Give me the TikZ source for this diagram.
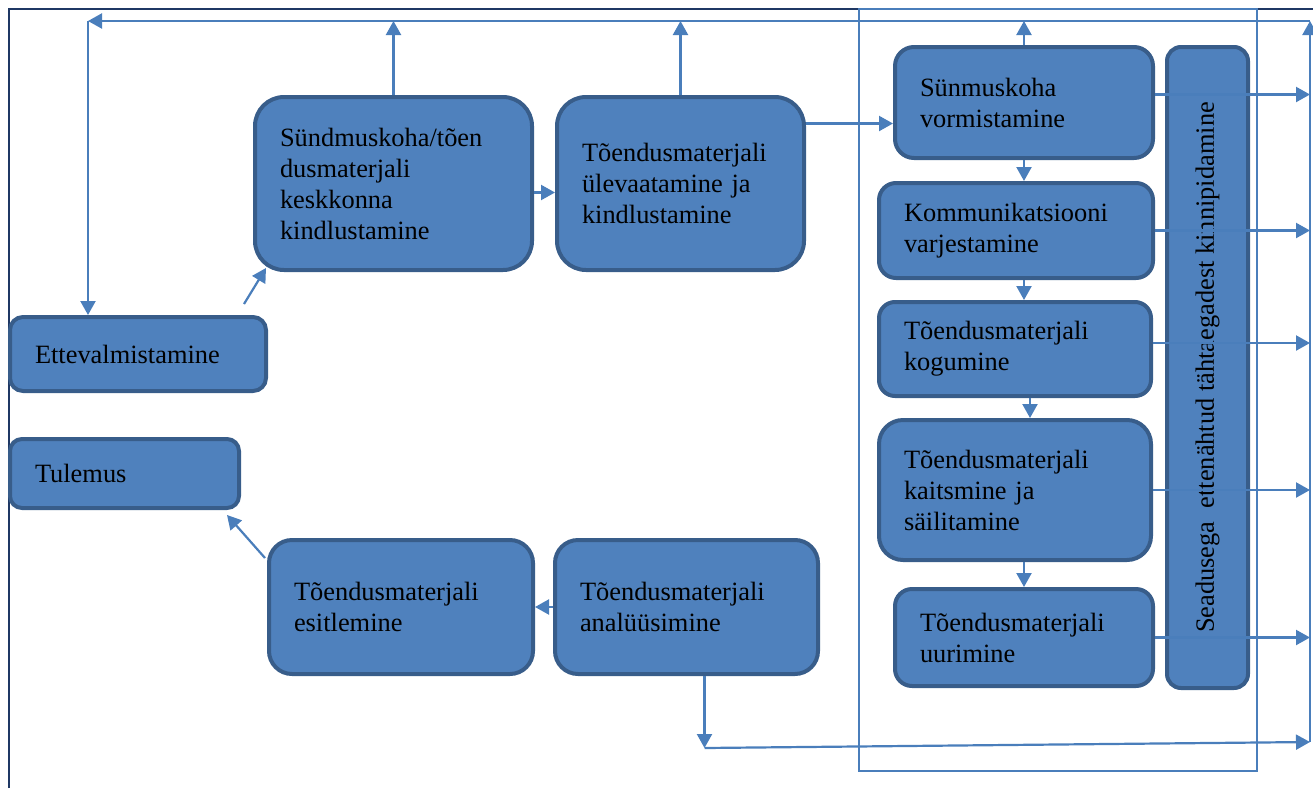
\documentclass[tikz,border=0pt]{standalone}
\usepackage{fontspec}
\setmainfont{Liberation Serif}
\usetikzlibrary{arrows.meta}

\definecolor{stagefill}{HTML}{4F81BD}
\definecolor{stageline}{HTML}{385D8A}
\definecolor{flowline}{HTML}{4A7EBB}
\definecolor{frameline}{HTML}{1F3864}
\newcommand{\stagefont}{\fontsize{13.2}{15.5}\selectfont}

\begin{document}
\begin{tikzpicture}[x=0.5pt,y=-0.5pt,
  stage/.style={draw=stageline,fill=stagefill,line width=2pt,align=left,
    inner xsep=12.5pt,inner ysep=0pt,font=\stagefont},
  flow/.style={draw=flowline,line width=1.1pt,-{Triangle[length=7pt,width=7.5pt]}}]
\useasboundingbox (0,0) rectangle (1313,788);
% frame and the box round the field stages
\draw[frameline,line width=1pt] (9,788) -- (9,9) -- (1313,9);
\draw[flowline,line width=0.8pt] (859,9) rectangle (1257,771);
% left column
\node[stage,text width=103pt,minimum height=37pt,rounded corners=6.5pt] (prep) at (138,354) {Ettevalmistamine};
\node[stage,text width=89.5pt,minimum height=34.5pt,rounded corners=6pt] (result) at (124.5,473.5) {Tulemus};
% upper row
\node[stage,text width=113.5pt,minimum height=86.5pt,rounded corners=14.5pt] (scene) at (393.5,183.5)
  {Sündmuskoha/tõen\\dusmaterjali\\keskkonna\\kindlustamine};
\node[stage,text width=98.5pt,minimum height=86.5pt,rounded corners=14.5pt] (review) at (680.5,183.5)
  {Tõendusmaterjali\\ülevaatamine ja\\kindlustamine};
% field stages
\node[stage,text width=104pt,minimum height=55.5pt,rounded corners=9.5pt] (vorm) at (1024,102.5)
  {Sünmuskoha\\vormistamine};
\node[stage,text width=112pt,minimum height=47.5pt,rounded corners=8.5pt] (komm) at (1016,230.5)
  {Kommunikatsiooni\\varjestamine};
\node[stage,text width=111pt,minimum height=47pt,rounded corners=8pt] (kogu) at (1015,349)
  {Tõendusmaterjali\\kogumine};
\node[stage,text width=111pt,minimum height=70pt,rounded corners=12pt] (kaits) at (1015,490)
  {Tõendusmaterjali\\kaitsmine ja\\säilitamine};
\node[stage,text width=104pt,minimum height=48.5pt,rounded corners=8.5pt] (uuri) at (1024,637.5)
  {Tõendusmaterjali\\uurimine};
\node[stage,rotate=90,align=center,inner xsep=0pt,minimum width=320.5pt,minimum height=40.5pt,rounded corners=7pt] (law) at (1207.5,367.5)
  {Seadusega\ \ ettenähtud tähtaegadest kinnipidamine};
% lower row
\node[stage,text width=107pt,minimum height=67pt,rounded corners=11.5pt] (esit) at (401,607)
  {Tõendusmaterjali\\esitlemine};
\node[stage,text width=106.5pt,minimum height=67pt,rounded corners=11.5pt] (anal) at (686.5,607)
  {Tõendusmaterjali\\analüüsimine};
% corners of the return lines
\coordinate (topl) at (88,21);
\coordinate (topr) at (1310,21);
\coordinate (botr) at (1310,742);
\coordinate (botl) at (704.5,748);
% return loop
\draw[flow] (botr) -- (topr);
\draw[flow] (topr) -- (topl);
\draw[flow] (topl) -- (topl |- prep.north);
\draw[flow] (scene.north) -- (scene.north |- topl);
\draw[flow] (review.north) -- (review.north |- topl);
\draw[flow] (vorm.north) -- (vorm.north |- topl);
% main flow
\draw[flow] ([xshift=-12pt,yshift=5.5pt]prep.north east) -- ([xshift=6.5pt,yshift=2pt]scene.south west);
\draw[flow] ([yshift=-4.5pt]scene.east) -- ([yshift=-4.5pt]review.west);
\draw[flow] ([yshift=30pt]review.east) -- ([yshift=30pt]review.east -| vorm.west);
\draw[flow] (vorm.south) -- (vorm.south |- komm.north);
\draw[flow] (komm.south -| vorm.south) -- (kogu.north -| vorm.south);
\draw[flow] ([xshift=3pt]kogu.south -| vorm.south) -- ([xshift=3pt]kaits.north -| vorm.south);
\draw[flow] (kaits.south -| vorm.south) -- (uuri.north);
% field stages out to the right
\draw[flow] ([yshift=4pt]vorm.east) -- ([yshift=4pt]vorm.east -| topr);
\draw[flow] (komm.east) -- (komm.east -| topr);
\draw[flow] ([yshift=3pt]kogu.east) -- ([yshift=3pt]kogu.east -| topr);
\draw[flow] (kaits.east) -- (kaits.east -| topr);
\draw[flow] (uuri.east) -- (uuri.east -| topr);
% lower row back to the result
\draw[flow] (anal.west) -- (esit.east);
\draw[flow] ([xshift=-1pt,yshift=-10pt]esit.north west) -- ([xshift=-7pt,yshift=-2.5pt]result.south east);
\draw[flow] ([xshift=9pt]anal.south) -- (botl);
\draw[flow] (botl) -- (botr);
\end{tikzpicture}
\end{document}
